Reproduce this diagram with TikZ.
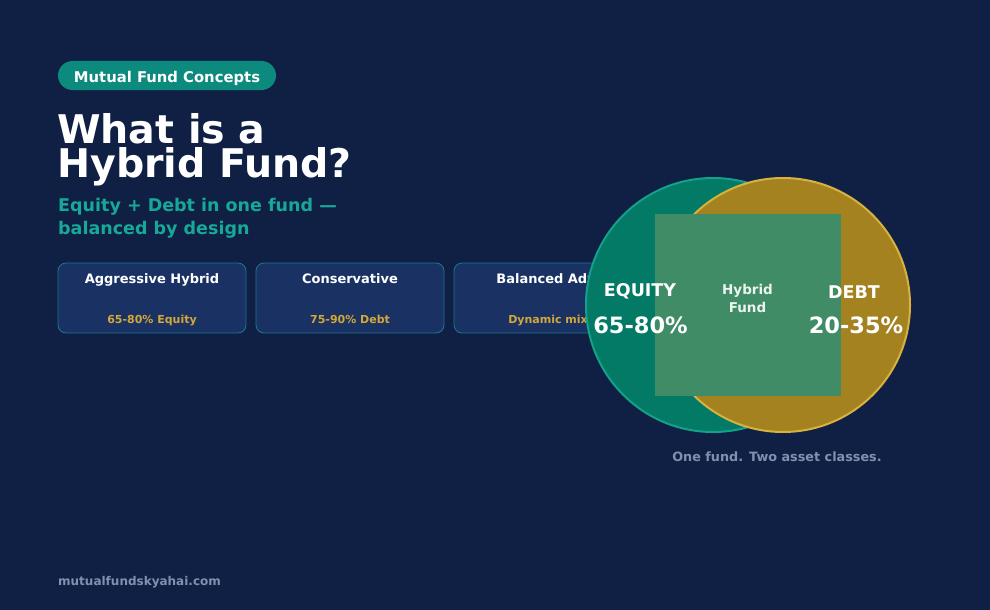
\documentclass[tikz,border=0pt]{standalone}
\usepackage{fontspec}
\setmainfont{DejaVu Sans}
\usetikzlibrary{positioning}
\definecolor{navy}{HTML}{0F2044}
\definecolor{pillteal}{HTML}{0D8A7E}
\definecolor{subteal}{HTML}{17A898}
\definecolor{cardfill}{HTML}{1A3263}
\definecolor{cardline}{HTML}{1F7592}
\definecolor{gold}{HTML}{D4A73A}
\definecolor{eqfill}{HTML}{037A66}
\definecolor{eqline}{HTML}{15A08A}
\definecolor{dbfill}{HTML}{A4821F}
\definecolor{dbline}{HTML}{D8B23F}
\definecolor{mixfill}{HTML}{3F8C66}
\definecolor{muted}{HTML}{7D92B2}

\begin{document}
\begin{tikzpicture}[x=1pt,y=-1pt,
    txt/.style={inner sep=0pt, anchor=base},
    cardbox/.style={draw=cardline, fill=cardfill, line width=0.8pt, rounded corners=8pt,
        minimum width=188pt, minimum height=70pt, inner sep=0pt},
    cardtitle/.style={txt, text=white, font=\bfseries\fontsize{13}{15}\selectfont},
    cardmix/.style={txt, text=gold, font=\bfseries\fontsize{11}{13}\selectfont},
    setcircle/.style={circle, minimum size=254pt, inner sep=0pt, line width=2pt},
    bigpct/.style={txt, text=white, font=\bfseries\fontsize{22.5}{26}\selectfont},
    setname/.style={txt, text=white, font=\bfseries\fontsize{17.5}{20}\selectfont}]
    % background
    \fill[navy] (0,0) rectangle (990,610);
    \useasboundingbox (0,0) rectangle (990,610);
    % tag pill
    \node[fill=pillteal, rounded corners=14.5pt, minimum width=218pt, minimum height=29pt,
        inner sep=0pt] (tag) at (167,75.5) {};
    \node[txt, text=white, font=\bfseries\fontsize{14.8}{17}\selectfont] (tagtext) at (167,82)
        {Mutual Fund Concepts};
    % heading
    \node[txt, anchor=base west, text depth=0pt, text=white,
        font=\bfseries\fontsize{39.5}{44}\selectfont] (title1) at (57,143) {What is a};
    \node[txt, anchor=base west, text=white, font=\bfseries\fontsize{39.5}{44}\selectfont]
        (title2) at (57,177) {Hybrid Fund?};
    \node[txt, anchor=base west, text=subteal, font=\bfseries\fontsize{17.5}{20}\selectfont]
        (sub1) at (58,211) {Equity + Debt in one fund —};
    \node[txt, anchor=base west, text=subteal, font=\bfseries\fontsize{17.5}{20}\selectfont]
        (sub2) at (58,234) {balanced by design};
    % fund type cards
    \foreach \i/\name/\mix in {1/Aggressive Hybrid/65-80\% Equity,
                               2/Conservative/75-90\% Debt,
                               3/Balanced Adv./Dynamic mix} {
        \node[cardbox] (card\i) at ({152+198*(\i-1)},298) {};
        \node[cardtitle] (cardname\i) at ([yshift=-21pt]card\i.north) {\name};
        \node[cardmix] (cardmix\i) at ([yshift=9.5pt]card\i.south) {\mix};
    }
    % venn of the two asset classes
    \node[setcircle, fill=eqfill, draw=eqline] (equity) at (713,305) {};
    \node[setcircle, fill=dbfill, draw=dbline] (debt) at (783,305) {};
    \node[fill=mixfill, minimum width=186pt, minimum height=182pt, inner sep=0pt]
        (overlap) at (748,305) {};
    % labels
    \node[setname] (eqname) at (640,296) {EQUITY};
    \node[bigpct] (eqpct) at (640.5,333) {65-80\%};
    \node[setname] (dbname) at (854,298) {DEBT};
    \node[bigpct] (dbpct) at (856,333) {20-35\%};
    \node[txt, text=white!90!mixfill, font=\bfseries\fontsize{13.5}{18}\selectfont]
        (mixname1) at (747.5,294) {Hybrid};
    \node[txt, text=white!90!mixfill, font=\bfseries\fontsize{13.5}{18}\selectfont]
        (mixname2) at (747.5,312.5) {Fund};
    \node[txt, text=muted, font=\bfseries\fontsize{12.8}{15}\selectfont]
        (caption) at (777,461) {One fund. Two asset classes.};
    % footer
    \node[txt, anchor=base west, text=muted, font=\bfseries\fontsize{12}{14}\selectfont]
        (site) at (58,585) {mutualfundskyahai.com};
\end{tikzpicture}
\end{document}
